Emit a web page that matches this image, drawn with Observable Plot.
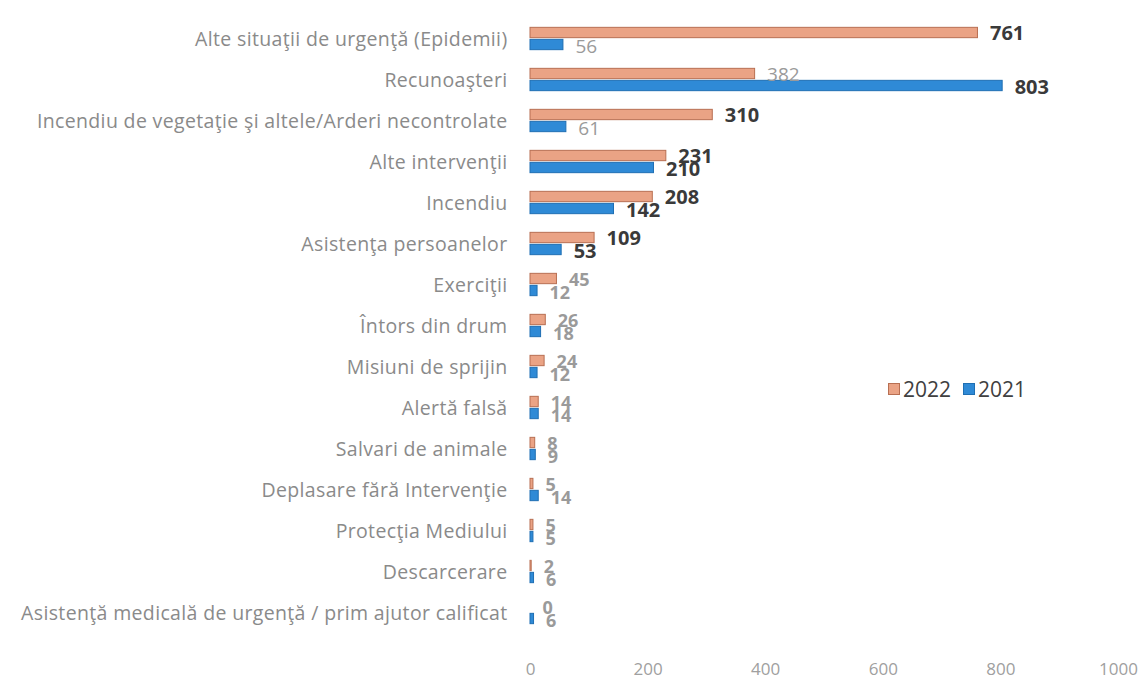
<!DOCTYPE html>
<html><head><meta charset="utf-8">
<script src="https://cdn.jsdelivr.net/npm/d3@7"></script>
<script src="https://cdn.jsdelivr.net/npm/@observablehq/plot@0.6"></script>
<style>
body{margin:0;background:#fff;font-family:"Open Sans",Lato,sans-serif;}
#wrap{position:relative;width:1146px;height:679px;}
#legend{position:absolute;left:888px;top:375px;display:flex;gap:12px;font-size:21px;color:#404040;}
#legend span{display:flex;align-items:center;}
#legend i{display:inline-block;width:10px;height:10px;margin-right:3px;}
</style></head>
<body><div id="wrap"><div id="legend"></div></div>
<script>
const categories = [
  "Alte situaţii de urgenţă (Epidemii)",
  "Recunoaşteri",
  "Incendiu de vegetaţie şi altele/Arderi necontrolate",
  "Alte intervenţii",
  "Incendiu",
  "Asistenţa persoanelor",
  "Exerciţii",
  "Întors din drum",
  "Misiuni de sprijin",
  "Alertă falsă",
  "Salvari de animale",
  "Deplasare fără Intervenţie",
  "Protecţia Mediului",
  "Descarcerare",
  "Asistenţă medicală de urgenţă / prim ajutor calificat"
];
const values2022 = [761, 382, 310, 231, 208, 109, 45, 26, 24, 14, 8, 5, 5, 2, 0];
const values2021 = [56, 803, 61, 210, 142, 53, 12, 18, 12, 14, 9, 14, 5, 6, 6];
const series = ["2022", "2021"];
const xTicks = [0, 200, 400, 600, 800, 1000];

const colors = {"2022": "#eaa385", "2021": "#2f8ad6"};
const strokes = {"2022": "#b86f52", "2021": "#1f6fb3"};
const darkLabel = "#3a3a3a", mutedLabel = "#9a9a9a";
const mutedNormal = new Set(["2022|Recunoaşteri", "2021|Alte situaţii de urgenţă (Epidemii)", "2021|Incendiu de vegetaţie şi altele/Arderi necontrolate"]);

const rows = [];
categories.forEach((c, i) => {
  rows.push({category: c, year: "2022", value: values2022[i]});
  rows.push({category: c, year: "2021", value: values2021[i]});
});
const labelFill = d => (d.value >= 50 && !mutedNormal.has(d.year + "|" + d.category)) ? darkLabel : mutedLabel;
const labelWeight = d => mutedNormal.has(d.year + "|" + d.category) ? "normal" : "bold";

const W = 1146, H = 679, mt = 14, mb = 40;
const band = (H - mt - mb) / categories.length;
const barH = 11;
const c22 = -7, c21 = 5; // bar centre offsets from row centre
const r22 = rows.filter(d => d.year === "2022");
const r21 = rows.filter(d => d.year === "2021");

function labels(data, dy, weight) {
  return Plot.text(data, {
    x: "value", y: "category", text: d => String(d.value),
    dx: 12, dy, textAnchor: "start",
    fontSize: weight === "bold" ? (d => d.value >= 50 ? 20 : 18) : 19,
    fontWeight: weight, fill: labelFill,
    fontFamily: "'Open Sans', sans-serif"
  });
}

const chart = Plot.plot({
  width: W, height: H,
  marginTop: mt, marginBottom: mb, marginLeft: 530, marginRight: 28,
  style: {fontFamily: "'Open Sans', Lato, sans-serif", background: "#fff"},
  x: {domain: [0, 1000], ticks: xTicks},
  y: {domain: categories, padding: 0},
  marks: [
    Plot.barX(r22, {x: "value", y: "category", fill: colors["2022"], stroke: strokes["2022"], strokeWidth: 1,
      insetTop: band / 2 + c22 - barH / 2, insetBottom: band / 2 - c22 - barH / 2}),
    Plot.barX(r21, {x: "value", y: "category", fill: colors["2021"], stroke: strokes["2021"], strokeWidth: 1,
      insetTop: band / 2 + c21 - barH / 2, insetBottom: band / 2 - c21 - barH / 2}),
    ...["bold", "normal"].flatMap(w => [
      labels(r22.filter(d => labelWeight(d) === w), c22 + 1, w),
      labels(r21.filter(d => labelWeight(d) === w), c21 + 2, w)
    ]),
    Plot.axisY({tickSize: 0, tickPadding: 23, fontSize: 19.5, color: "#8a8a8a", label: null}),
    Plot.axisX({ticks: xTicks, tickFormat: d3.format("d"), tickSize: 0, tickPadding: 23, fontSize: 17, color: "#a0a0a0", label: null})
  ]
});
document.getElementById("wrap").prepend(chart);
chart.style.display = "block";
chart.querySelectorAll("g[aria-label='y-axis tick label'] text").forEach(t => t.setAttribute("letter-spacing", "0.35"));

const lg = document.getElementById("legend");
series.forEach(s => {
  const sp = document.createElement("span");
  sp.innerHTML = `<i style="background:${colors[s]};border:1px solid ${strokes[s]}"></i>${s}`;
  lg.appendChild(sp);
});
</script></body></html>
